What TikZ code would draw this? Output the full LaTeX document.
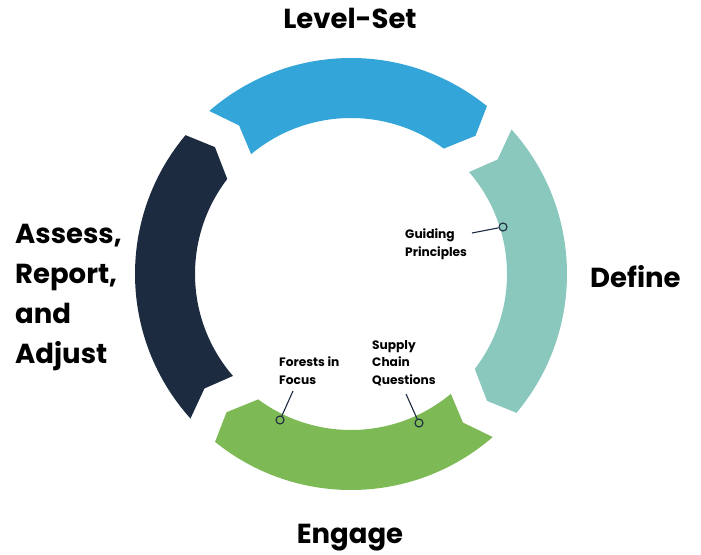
\documentclass[tikz,border=0pt]{standalone}
\usepackage{fontspec}
\setmainfont{Poppins}
\definecolor{cblue}{RGB}{51,165,216}
\definecolor{cteal}{RGB}{138,200,190}
\definecolor{cgreen}{RGB}{125,185,85}
\definecolor{cnavy}{RGB}{28,43,64}
\newcommand\ringseg[3]{%
  \fill[#1] (#2:216) arc[start angle=#2, end angle=#3, radius=216]
    -- ({#3-3}:186) -- ({#3+2.5}:156)
    arc[start angle={#3+2.5}, end angle={#2-1.2}, radius=156]
    -- ({#2-4}:186) -- cycle;}
\begin{document}
\begin{tikzpicture}[x=1pt,y=1pt,
  big/.style={font=\fontsize{27.5}{40}\selectfont\bfseries, inner sep=0},
  small/.style={font=\fontsize{12.2}{17.5}\selectfont\bfseries, inner sep=0, align=left},
  pin/.style={circle, draw=cnavy, line width=1.1pt, minimum size=8pt, inner sep=0},
  lead/.style={draw=cnavy, line width=1.1pt}]
\useasboundingbox (0,0) rectangle (701,554);
\begin{scope}[shift={(351,280)}]
  \ringseg{cblue}{131}{51}
  \ringseg{cteal}{42}{-40}
  \ringseg{cgreen}{-49}{-129}
  \ringseg{cnavy}{222}{140}
\end{scope}
\node[big, anchor=center] (lvl) at (350,536) {Level-Set};
\node[big, anchor=west] (def) at (590,277) {Define};
\node[big, anchor=center] (eng) at (350,16) {Engage};
\node[big, anchor=west, align=left] (ass) at (15,256) {Assess,\\Report,\\and\\Adjust};
\node[small, anchor=north west] (gp) at (405,325) {Guiding\\Principles};
\node[small, anchor=north west] (ff) at (279,197) {Forests in\\Focus};
\node[small, anchor=north west] (sc) at (372,214) {Supply\\Chain\\Questions};
\node[pin] (gpc) at (503,327) {};
\node[pin] (ffc) at (280,134) {};
\node[pin] (scc) at (419,131) {};
\coordinate (gpa) at (472,321);
\coordinate (ffa) at (293,163);
\coordinate (sca) at (406,160);
\draw[lead] (gpa) -- (gpc);
\draw[lead] (ffa) -- (ffc);
\draw[lead] (sca) -- (scc);
\end{tikzpicture}
\end{document}
